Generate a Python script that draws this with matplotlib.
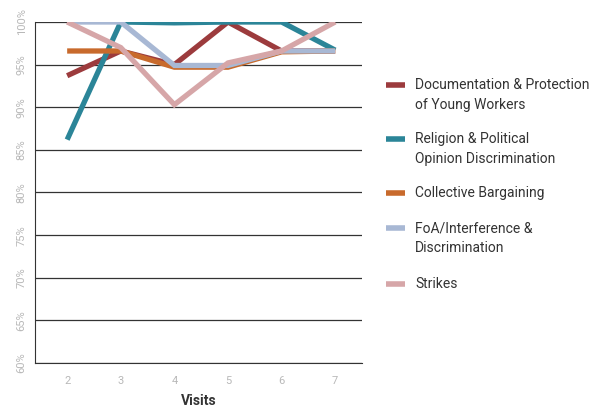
import matplotlib.pyplot as plt
from matplotlib.lines import Line2D
from matplotlib import font_manager

names = {f.name for f in font_manager.fontManager.ttflist}
fam = ['Liberation Sans Narrow', 'DejaVu Sans'] if 'Liberation Sans Narrow' in names else ['Roboto', 'DejaVu Sans']
plt.rcParams['font.family'] = fam

visits = [2, 3, 4, 5, 6, 7]
documentation = [93.7, 96.6, 95.0, 100.0, 96.6, 96.6]
religion = [86.2, 100.0, 99.9, 100.0, 100.0, 96.7]
bargaining = [96.6, 96.6, 94.7, 94.7, 96.5, 96.6]
foa = [100.0, 100.0, 94.9, 94.9, 96.6, 96.6]
strikes = [100.0, 97.0, 90.3, 95.2, 96.6, 100.0]

labels = ['Documentation & Protection\nof Young Workers',
          'Religion & Political\nOpinion Discrimination',
          'Collective Bargaining',
          'FoA/Interference &\nDiscrimination',
          'Strikes']
colors = ['#9c3b3d', '#2b8598', '#c86a2c', '#a8b8d4', '#d6a6a8']
series = [documentation, religion, bargaining, foa, strikes]

fig = plt.figure(figsize=(5.93, 4.11), dpi=100)
ax = fig.add_axes([35/593, 1-363/411, 327/593, 341/411])

for vals, c in zip(series, colors):
    ax.plot(visits, vals, color=c, lw=3.8, solid_capstyle='butt', solid_joinstyle='miter')

ax.set_ylim(60, 100)
ax.set_xlim(1.4, 7.5)
ax.set_yticks(range(60, 101, 5))
ax.set_yticklabels([f'{v}%' for v in range(60, 101, 5)], rotation=90, va='center')
ax.set_xticks(visits)
ax.grid(axis='y', color='#333333', lw=0.9)
ax.set_axisbelow(True)
for s in ['top', 'right']:
    ax.spines[s].set_visible(False)
ax.spines['left'].set_color('#333333')
ax.spines['bottom'].set_color('#333333')
ax.tick_params(length=0, labelsize=8, colors='#b8b8b8', pad=9)
ax.tick_params(axis='y', pad=6)
ax.set_xlabel('Visits', fontsize=10, fontweight='bold', color='#333333', labelpad=6)

# legend drawn by hand so the swatch lines up with the first text line
handle_y = [85, 139, 193, 228, 284]
for lab, c, hy in zip(labels, colors, handle_y):
    y = 1 - hy/411
    fig.add_artist(Line2D([386/593, 405/593], [y, y], color=c, lw=4, solid_capstyle='butt'))
    fig.text(415/593, 1 - (hy - 7)/411, lab, fontsize=10, color='#333333', va='top', linespacing=1.55)

fig.savefig('out.png', dpi=100)
